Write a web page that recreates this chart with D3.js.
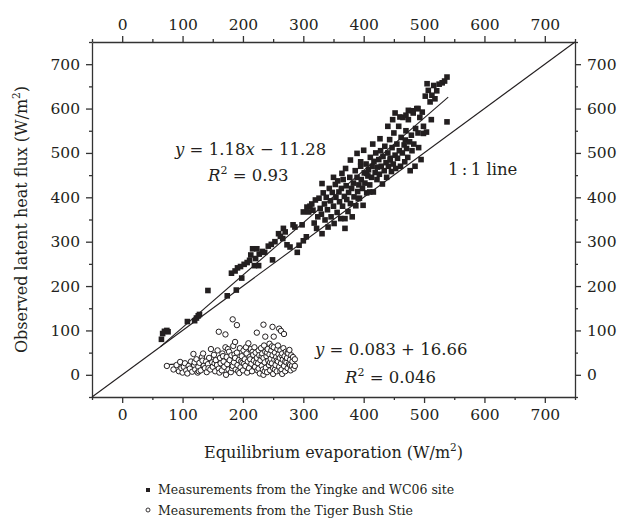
<!DOCTYPE html>
<html>
<head>
<meta charset="utf-8">
<script src="https://cdn.jsdelivr.net/npm/d3@7"></script>
<style>
  body { margin: 0; background: #fff; }
  text { font-family: "DejaVu Serif", "Liberation Serif", serif; fill: #231f20; }
  .axis path, .axis line { stroke: #333; stroke-width: 1.3; }
  .axis text { font-size: 15.5px; }
</style>
</head>
<body>
<div id="chart"></div>
<script>
// data (W/m2)
var ticks = [0, 100, 200, 300, 400, 500, 600, 700];
var minorTicks = [-50, 50, 150, 250, 350, 450, 550, 650, 750];

// Yingke and WC06 site: [equilibrium evaporation, observed LE]
var yingke = [
  [65,80],[67,93],[70,98],[74,100],[76,97],
  [108,120],[120,122],[123,128],[126,133],[128,136],
  [142,190],[174,178],[181,229],[189,191],[187,234],[191,241],[196,244],[198,218],[202,249],[207,253],
  [211,258],[213,270],[216,284],[219,246],[221,262],[223,284],[226,246],[227,272],[232,278],[236,276],
  [242,290],[247,294],[249,259],[253,300],[259,318],[262,312],[266,307],[267,330],[270,322],[273,293],
  [278,288],[283,338],[286,333],[290,276],[293,292],[298,338],[300,302],[305,311],[300,367],[306,378],
  [309,367],[311,380],[314,385],[316,371],[318,342],[320,394],[322,330],[324,356],[326,398],[328,375],
  [330,362],[331,318],[331,431],[333,410],[335,385],[336,349],[338,400],[340,372],[341,333],[343,420],
  [345,392],[346,356],[348,411],[350,380],[350,445],[351,341],[353,429],[354,400],[356,366],[357,437],
  [359,412],[360,390],[362,352],[363,420],[364,454],[365,380],[366,440],[368,402],[369,330],[369,352],
  [370,465],[371,426],[372,395],[374,368],[375,411],[377,445],[378,386],[378,484],[380,420],[381,356],
  [383,432],[384,401],[386,460],[387,381],[389,445],[389,499],[390,413],[391,397],[392,428],[393,398],
  [395,470],[395,480],[396,440],[398,420],[399,382],[400,506],[401,455],[402,432],[404,475],[405,410],
  [405,454],[407,448],[408,462],[410,428],[410,412],[411,490],[413,445],[414,470],[415,520],[416,412],
  [417,481],[419,456],[420,500],[422,440],[423,468],[425,485],[426,452],[427,532],[428,505],[429,470],
  [431,430],[432,492],[434,460],[435,515],[437,478],[438,445],[440,500],[440,560],[441,470],[443,530],
  [444,484],[444,488],[446,458],[447,512],[448,575],[449,475],[450,545],[452,495],[452,590],[453,465],
  [455,520],[456,488],[458,560],[459,505],[460,581],[461,470],[462,535],[464,500],[465,580],[467,518],
  [468,480],[469,529],[470,550],[470,585],[471,510],[473,490],[474,575],[474,596],[476,525],[477,460],
  [479,540],[480,505],[480,595],[482,590],[483,520],[485,470],[486,555],[488,600],[490,545],[490,600],
  [491,512],[493,580],[495,485],[497,592],[499,560],[499,544],[502,628],[504,547],[505,656],[507,641],
  [510,615],[512,575],[513,630],[516,652],[518,622],[521,640],[525,655],[530,658],[534,662],[538,671],
  [538,570]
];

// Tiger Bush site
var tigerBush = [
  [74,20],[85,12],[90,22],[94,8],[96,29],[98,15],[100,5],[102,18],[104,26],[106,10],[108,3],[110,20],
  [112,14],[114,30],[116,7],[118,47],[119,22],[120,28],[121,12],[123,35],[125,5],[126,18],[127,8],[128,27],
  [130,10],[132,40],[133,32],[134,48],[135,20],[137,15],[139,30],[140,6],[142,24],[143,15],[144,38],[146,12],
  [147,58],[149,28],[150,18],[152,45],[153,26],[154,8],[155,33],[157,22],[158,55],[160,97],[160,14],[161,5],
  [162,38],[163,26],[165,10],[166,48],[167,42],[168,30],[169,18],[171,91],[171,62],[172,0],[173,40],[174,24],
  [175,58],[176,12],[177,52],[178,33],[180,6],[181,44],[182,15],[183,125],[183,20],[184,65],[185,28],[186,46],
  [187,74],[187,38],[188,12],[190,112],[190,50],[191,22],[192,8],[193,33],[194,4],[195,60],[196,17],[197,30],
  [198,42],[199,27],[200,10],[201,55],[202,25],[203,35],[204,20],[205,62],[206,48],[207,5],[208,30],[209,71],
  [210,15],[211,40],[212,35],[213,58],[214,25],[215,8],[216,52],[217,45],[218,32],[219,62],[220,18],[221,50],
  [222,28],[223,95],[223,38],[224,10],[225,26],[226,55],[226,14],[227,44],[228,3],[229,33],[230,60],[231,20],
  [231,42],[232,48],[233,12],[234,113],[234,0],[234,38],[235,66],[236,28],[236,8],[237,86],[237,52],[238,16],
  [239,42],[240,6],[240,50],[241,58],[242,32],[243,22],[244,70],[244,46],[245,10],[245,28],[246,36],[247,55],
  [248,26],[248,64],[249,108],[249,44],[250,2],[250,15],[251,86],[251,62],[252,34],[253,50],[253,12],[254,22],
  [255,40],[256,8],[256,32],[257,58],[258,30],[258,66],[259,46],[260,104],[260,18],[261,38],[262,55],[262,8],
  [263,99],[263,26],[264,12],[264,44],[265,2],[265,48],[266,34],[267,60],[268,92],[268,20],[269,42],[270,8],
  [270,30],[271,52],[272,28],[273,38],[274,15],[274,50],[275,48],[276,24],[277,56],[278,34],[278,22],[279,10],
  [280,44],[281,20],[282,30],[283,40],[284,14],[286,35],[286,20]
];

// fitted lines: [slope, intercept], and the x span they are drawn over
var fitYingke = [1.18, -11.28], spanYingke = [63, 540];
var fitTiger = [0.083, 16.66], spanTiger = [75, 285];

var width = 623, height = 531;
var margin = { top: 42, left: 92, right: 48, bottom: 134 };

var svg = d3.select("#chart").append("svg")
            .attr("width", width)
            .attr("height", height);

var x = d3.scaleLinear()
          .domain([-50, 750])
          .range([margin.left, width - margin.right]);

var y = d3.scaleLinear()
          .domain([-50, 750])
          .range([height - margin.bottom, margin.top]);

function addAxis(axis, transform) {
  var g = svg.append("g")
             .attr("class", "axis")
             .attr("transform", transform)
             .call(axis.tickValues(ticks).tickSize(6).tickSizeOuter(0).tickPadding(6));
  return g;
}

function addMinor(axis, transform) {
  svg.append("g")
     .attr("class", "axis")
     .attr("transform", transform)
     .call(axis.tickValues(minorTicks).tickSize(3).tickSizeOuter(0).tickFormat(""))
     .select(".domain").remove();
}

var bx = "translate(0," + y(-50) + ")",
    tx = "translate(0," + y(750) + ")",
    lx = "translate(" + x(-50) + ",0)",
    rx = "translate(" + x(750) + ",0)";

addAxis(d3.axisBottom(x), bx);
addAxis(d3.axisTop(x), tx);
addAxis(d3.axisLeft(y), lx);
addAxis(d3.axisRight(y), rx);
addMinor(d3.axisBottom(x), bx);
addMinor(d3.axisTop(x), tx);
addMinor(d3.axisLeft(y), lx);
addMinor(d3.axisRight(y), rx);

// 1:1 line
svg.append("line")
   .attr("x1", x(-50)).attr("y1", y(-50))
   .attr("x2", x(750)).attr("y2", y(750))
   .attr("stroke", "#231f20")
   .attr("stroke-width", 1.1);

function fitLine(fit, span) {
  svg.append("line")
     .attr("x1", x(span[0])).attr("y1", y(fit[0] * span[0] + fit[1]))
     .attr("x2", x(span[1])).attr("y2", y(fit[0] * span[1] + fit[1]))
     .attr("stroke", "#231f20")
     .attr("stroke-width", 1.1);
}

fitLine(fitTiger, spanTiger);

svg.append("g").selectAll("circle")
   .data(tigerBush)
   .enter().append("circle")
   .attr("cx", d => x(d[0]))
   .attr("cy", d => y(d[1]))
   .attr("r", 2.7)
   .attr("fill", "#fff")
   .attr("stroke", "#231f20")
   .attr("stroke-width", 1);

svg.append("g").selectAll("rect")
   .data(yingke)
   .enter().append("rect")
   .attr("x", d => x(d[0]) - 2.8)
   .attr("y", d => y(d[1]) - 2.8)
   .attr("width", 5.6)
   .attr("height", 5.6)
   .attr("fill", "#231f20");

fitLine(fitYingke, spanYingke);

// annotations
function note(px, py, parts) {
  var t = svg.append("text")
             .attr("x", px).attr("y", py)
             .style("font-size", "16.5px");
  parts.forEach(p => {
    var s = t.append("tspan").text(p[0]);
    if (p[1] === "i") s.style("font-style", "italic");
    if (p[1] === "sup") s.attr("dy", -7).style("font-size", "11px");
    if (p[1] === "after") s.attr("dy", 7);
  });
}

note(175, 155, [["y", "i"], [" = 1.18"], ["x", "i"], [" \u2212 11.28"]]);
note(208, 181, [["R", "i"], ["2", "sup"], [" = 0.93", "after"]]);
note(448, 175, [["1\u2009:\u20091 line"]]);
note(315, 355, [["y", "i"], [" = 0.083 + 16.66"]]);
note(345, 383, [["R", "i"], ["2", "sup"], [" = 0.046", "after"]]);

// axis titles
var xt = svg.append("text")
            .attr("x", x(350)).attr("y", 458)
            .attr("text-anchor", "middle")
            .style("font-size", "16px")
            .text("Equilibrium evaporation (W/m");
xt.append("tspan").attr("dy", -7).style("font-size", "10.5px").text("2");
xt.append("tspan").attr("dy", 7).text(")");

var yt = svg.append("text")
            .attr("transform", "translate(27," + y(350) + ") rotate(-90)")
            .attr("text-anchor", "middle")
            .style("font-size", "16px")
            .text("Observed latent heat flux (W/m");
yt.append("tspan").attr("dy", -7).style("font-size", "10.5px").text("2");
yt.append("tspan").attr("dy", 7).text(")");

// legend
var legend = svg.append("g").attr("transform", "translate(148,0)");

legend.append("rect")
      .attr("x", -2).attr("y", 488)
      .attr("width", 4).attr("height", 4)
      .attr("fill", "#231f20");
legend.append("circle")
      .attr("cx", 0).attr("cy", 510)
      .attr("r", 2)
      .attr("fill", "#fff")
      .attr("stroke", "#231f20")
      .attr("stroke-width", 0.9);

legend.append("text")
      .attr("x", 10).attr("y", 494)
      .style("font-size", "12.5px")
      .text("Measurements from the Yingke and WC06 site");
legend.append("text")
      .attr("x", 10).attr("y", 515)
      .style("font-size", "12.5px")
      .text("Measurements from the Tiger Bush Stie");
</script>
</body>
</html>
